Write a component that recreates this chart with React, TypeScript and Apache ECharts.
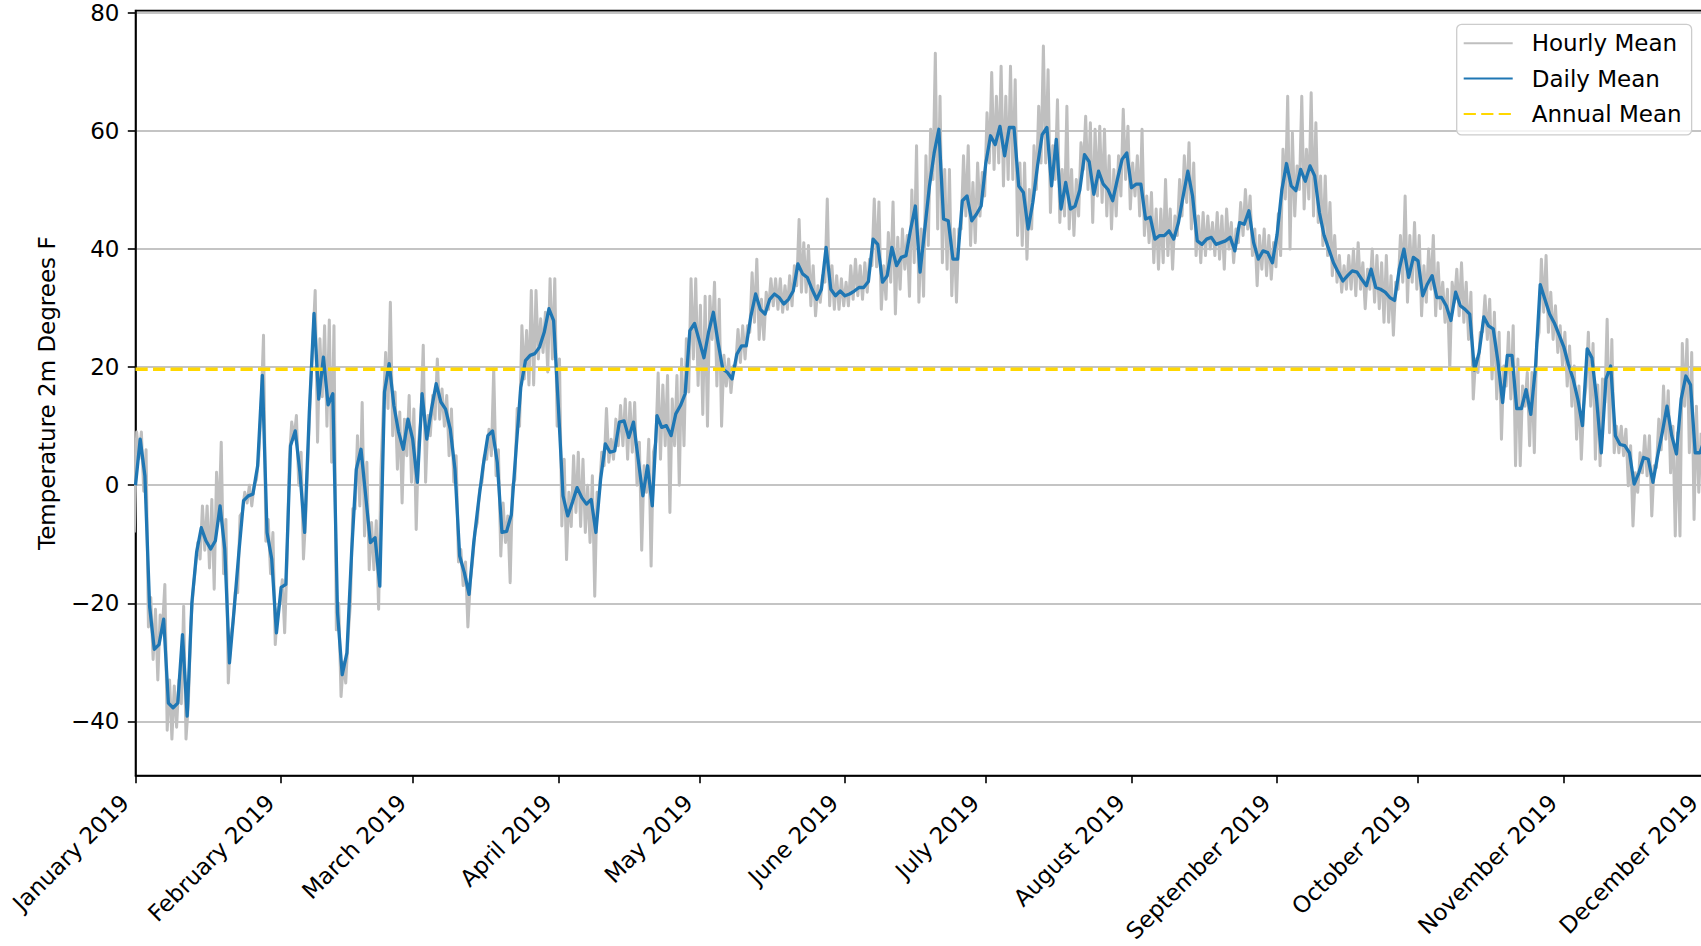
import React, { useEffect, useRef } from "react";
import * as echarts from "echarts";

// ---- data (day index 0 = 1 January 2019) ----
const monthStarts = [0, 31, 59, 90, 120, 151, 181, 212, 243, 273, 304, 334];
const monthLabels = [
  "January 2019", "February 2019", "March 2019", "April 2019", "May 2019", "June 2019",
  "July 2019", "August 2019", "September 2019", "October 2019", "November 2019", "December 2019",
];
const yTicks = [-40, -20, 0, 20, 40, 60, 80];

const dailyMean = [
  0, 7.8, 1.6, -20.5, -27.8, -27, -22.7, -36.9, -37.7, -36.9,
  -25.3, -39.1, -19.9, -11.4, -7.2, -9.4, -10.8, -9.4, -3.5, -10.8,
  -30.1, -21, -11.4, -2.6, -1.8, -1.5, 3.3, 18.6, -8, -12.5,
  -25, -17.3, -16.8, 6.7, 9.2, 2.2, -8, 12.4, 29.1, 14.6,
  21.7, 13.6, 15.5, -21.6, -32.1, -28.4, -11.4, 2.7, 6.1, -1.8,
  -9.7, -8.9, -17.1, 15.8, 20.6, 13.5, 9.0, 6.1, 11.2, 7.8,
  0.5, 15.5, 7.8, 12.9, 17.2, 14.1, 12.9, 9.5, 2.7, -12,
  -14.8, -18.5, -9.7, -2.9, 3.3, 8.4, 9.2, 3.9, -8, -7.8,
  -5, 6, 16.5, 21.1, 22, 22.3, 23.4, 25.9, 29.9, 27.9,
  13.5, -1.8, -5.2, -2.9, -0.4, -2.1, -3.2, -2.4, -8, 1.0,
  7.0, 5.6, 5.8, 10.7, 10.9, 8.1, 10.7, 4.4, -1.8, 3.3,
  -3.5, 11.8, 9.8, 10.1, 8.4, 12.1, 13.5, 15.5, 26.2, 27.4,
  24.5, 21.6, 26, 29.3, 24.2, 19.7, 19.1, 18, 22.2, 23.6,
  23.6, 28.7, 32.4, 29.8, 29, 31.5, 32.4, 31.8, 30.7, 31.5,
  32.9, 37.5, 35.8, 35.2, 33.2, 31.5, 33.2, 40.3, 33.2, 32.1,
  32.9, 32.1, 32.4, 32.9, 33.5, 33.5, 34.5, 41.7, 40.8, 34.4,
  35.5, 40.3, 37.2, 38.6, 38.9, 43.4, 47.3, 36.1, 43.4, 50.7,
  56.3, 60.3, 45.1, 44.8, 38.3, 38.3, 48.2, 49, 44.8, 45.9,
  47.3, 54.6, 59.2, 57.7, 60.8, 55.8, 60.6, 60.6, 50.7, 49.6,
  43.4, 47.9, 54.1, 59.4, 60.6, 50.7, 58.6, 46.8, 51.3, 46.8,
  47.3, 50, 56, 54.8, 49.3, 53.2, 51, 50.1, 48.2, 51.8,
  55.2, 56.3, 50.4, 51, 51, 45.1, 45.4, 41.7, 42.3, 42.3,
  43.1, 41.7, 44.5, 49, 53.2, 49, 41.4, 40.8, 41.7, 42,
  40.8, 41.1, 41.4, 42, 39.7, 44.5, 44.2, 46.5, 41.1, 38.3,
  39.7, 39.4, 37.7, 42.5, 50, 54.5, 50.7, 49.9, 53.5, 51.5,
  54.1, 52.4, 46.2, 42.3, 40, 37.7, 36.1, 34.6, 35.5, 36.3,
  36.1, 34.9, 33.8, 36.6, 33.5, 33.2, 32.7, 31.8, 31.3, 36.6,
  40, 35.2, 38.6, 38, 32.1, 34.1, 35.5, 31.8, 31.8, 30.4,
  27.9, 32.7, 30.4, 29.8, 29, 19.5, 22.5, 28.5, 27, 26.5,
  21, 14, 22, 22, 13, 13, 16.2, 12, 20, 34,
  31.5, 29, 27.5, 25.5, 23.5, 20.5, 18, 14.6, 10.1, 23.1,
  21.6, 14.6, 5.5, 18, 20.2, 8.4, 6.9, 6.7, 5.5, 0.2,
  2.1, 4.7, 4.4, 0.5, 5, 9, 13.4, 8.4, 5.3, 14.6,
  18.5, 17, 5.5, 5.5, 7.8,
];

// daily extremes of the hourly trace
const hourlyHigh = [
  9, 9, 6, -19, -21, -22, -16.8, -33, -34, -33,
  -20.5, -37, -18, -9.7, -3.5, -3.5, -2.4, 2.2, 7.3, -5.8,
  -26, -18, -5.2, -1.2, 0, 0, 5, 25.4, -5.8, -8,
  -21, -16, -13, 10.7, 11.8, 5.6, -5, 15.8, 33, 24.8,
  27, 28, 27, -20, -30, -25.6, -4, 8.4, 14, 3.9,
  -6.3, -6, 2.7, 22.5, 31, 15.8, 12.4, 11.2, 15.2, 12.9,
  7.3, 23.7, 11.8, 15.2, 21.4, 16.3, 15.2, 12.9, 5, -10.9,
  -13, -16.5, -8, -0.7, 5, 9.5, 19.7, 6, -3, -5.2,
  0, 13, 27, 26.2, 33, 33, 28.2, 29.3, 35, 35,
  21.4, 4.4, -1.2, 5, 5.6, 4.4, 0, 1.6, -1.2, 5.6,
  13, 7.8, 11.2, 13.5, 14.6, 14, 14, 7.3, 3.3, 7.8,
  5.6, 19, 17, 18.6, 14.6, 18.6, 21.4, 24.8, 35, 35,
  30.5, 32, 32, 34.4, 31.5, 22, 21.4, 20.2, 26.4, 27,
  27, 36, 38.3, 31.5, 32.7, 35, 35, 35, 33.8, 35.5,
  37.2, 45, 41.1, 40.6, 37.2, 33.8, 35.5, 48.5, 37.2, 35.5,
  35, 34.4, 37.2, 38.3, 37.2, 37.7, 38.3, 48.5, 48, 37.2,
  42.8, 48, 42, 43.4, 42.3, 50, 57.5, 43.4, 55.8, 60.3,
  73.2, 65.9, 53.5, 53.5, 43.4, 43.4, 55.8, 57.5, 51.3, 54.6,
  53, 63.1, 69.9, 65.9, 71, 65.9, 71, 68.7, 54.6, 54.6,
  50.1, 57.5, 64.2, 74.4, 70.4, 57.5, 65.3, 53.5, 64.2, 53.5,
  51.8, 58, 62.5, 61.4, 60.3, 60.8, 60.3, 55.8, 53.5, 55.8,
  63.7, 60.8, 54.6, 55.8, 60.3, 49, 49.6, 46.8, 46.8, 51.8,
  46.8, 45.6, 51.8, 55.8, 58, 54.6, 45.6, 46.2, 45.6, 44.5,
  46.2, 45.6, 46.8, 44.5, 43.4, 47.9, 50.1, 49, 43.4, 42.3,
  43.4, 42.3, 41.1, 46, 56.9, 65.9, 59.7, 54.1, 65.9, 56.9,
  66.5, 61.4, 52.4, 52.4, 47.9, 42.3, 38.9, 37.2, 38.9, 40,
  41.1, 37.7, 36.6, 40, 38.9, 37.7, 38.9, 35.5, 34.4, 42.3,
  49, 42.3, 44.5, 42.3, 37.2, 40, 42.3, 37.7, 34.4, 33.2,
  34.4, 36.6, 37.7, 34.4, 32.7, 21.4, 25.9, 32.1, 31.5, 29.3,
  25.9, 20.2, 25.9, 27, 21.4, 16.8, 19.1, 19.1, 24, 38.3,
  38.9, 32.7, 30.4, 27, 25.9, 23.6, 20.2, 16.8, 13.4, 25.9,
  24, 17, 18, 28.1, 24.7, 10, 10, 9.5, 6.7, 2.1,
  5.5, 8.4, 8.4, 3.3, 11.2, 16.8, 16, 10, 8.9, 24,
  24.7, 22.5, 13.4, 8.9,
];
const hourlyLow = [
  -8, 4.5, -1, -24, -29.5, -33, -24, -41.5, -43, -41,
  -37, -43, -24, -14, -12.5, -11, -14, -17.6, -6, -15,
  -33.5, -23.3, -18.2, -4.6, -3, -3.5, 1, 13.5, -9.5, -15,
  -27, -20, -25, 4.4, 7.8, 0, -12.5, 5.6, 24.2, 7.3,
  15, 10, 3.9, -24.5, -35.8, -33.5, -20, -4, -3.5, -8.6,
  -14.3, -14.3, -21, 13, 13, 8.4, 2.7, -3, 5, 0.5,
  -7.5, 11.2, 0.5, 8.4, 11.2, 11.2, 10, 5, 0.5, -13,
  -17, -24, -12.6, -6.3, 0.5, 4.4, 5, 1.6, -12, -9.7,
  -16.5, 1, 10, 18, 17, 17, 21.4, 22.5, 19.2, 21.4,
  10, -6.9, -12.6, -7, -4.6, -7, -8, -9.7, -18.8, -1.2,
  3.3, 3.9, 4.4, 6.7, 6.7, 4.4, 5.6, 0, -11, -1.2,
  -13.7, 7.3, 4.4, 6.7, -4.6, 6.7, 0, 6.7, 15.8, 21.4,
  16.9, 12, 10, 24.7, 16.8, 10, 16.8, 15.7, 20.2, 20.8,
  21.4, 25.9, 27.6, 24.7, 24.7, 29.8, 30.4, 29.8, 29.3, 29.8,
  30.4, 33.8, 32.7, 32.7, 30.4, 28.7, 31, 34.4, 30.4, 29.8,
  29.8, 30.4, 30.4, 31.5, 32.1, 31.5, 32.7, 37.2, 37, 29.8,
  31.5, 34.4, 29, 33.2, 36.6, 32, 37.7, 31, 32, 40.6,
  51.8, 43.4, 37.7, 36.6, 32.1, 31, 43.4, 45.6, 40.6, 41.1,
  45.6, 49, 54.6, 53.5, 54.6, 50.7, 51.8, 51.8, 42.3, 40.6,
  38.3, 43.4, 50.1, 54.6, 54.6, 46.2, 51.8, 44.5, 45.6, 43.4,
  42.3, 45.6, 53.5, 50.1, 44.5, 49, 47.9, 45.6, 43.4, 45.6,
  49, 51.8, 46.8, 49, 45.6, 42.3, 41.1, 37.7, 36.6, 37.7,
  38.9, 36.6, 42.3, 45.6, 47.9, 43.4, 38.9, 37.7, 38.9, 40,
  38.9, 38.3, 36.6, 40, 37.7, 41.1, 42.3, 43.4, 38.9, 33.8,
  36.6, 35.5, 34.9, 37, 38.9, 48.5, 40, 45.6, 50.1, 46.8,
  48.5, 45.6, 44.5, 40.6, 38.9, 35.5, 34.4, 32.7, 33.2, 33.2,
  32.1, 33.2, 29.9, 33.2, 31, 29.9, 27.6, 27.6, 25.4, 33.2,
  34.4, 31, 34.4, 33.2, 28.7, 31, 33.2, 28.7, 29.9, 27.6,
  19.7, 31, 28.7, 27.6, 24.7, 14.6, 19.1, 26, 24.7, 18,
  14.6, 7.8, 16.8, 14.6, 3.3, 3.3, 13.4, 6.7, 5.5, 25.9,
  29.3, 25.9, 24.7, 22.5, 20.2, 16.8, 13.4, 7.8, 4.4, 16.8,
  13.4, 4.4, 3.3, 14, 8.9, 5.5, 5.5, 5, -0.1, -6.9,
  -1.2, 2.1, 1.6, -5.2, 3, 6, 7.8, 2.1, -8.6, -8.6,
  13.4, 5.5, -5.8, -1.2,
];
const annualMean = 19.65;

const X_MIN = 0;
const X_MAX = 345;
const Y_MIN = -49.2;
const Y_MAX = 80.4;

const FONT = "DejaVu Sans";
const FONT_SIZE = 23;

export default function App() {
  const ref = useRef<HTMLDivElement>(null);

  useEffect(() => {
    if (!ref.current) return;
    const chart = echarts.init(ref.current, null, { renderer: "svg" });

    const hourlyPts: number[][] = [];
    for (let i = 0; i < hourlyHigh.length; i++) {
      hourlyPts.push([i - 0.25, hourlyLow[i]]);
      hourlyPts.push([i + 0.25, hourlyHigh[i]]);
    }
    const dailyPts = dailyMean.map((v, i) => [i, v]);
    const annualPts = [
      [X_MIN, annualMean],
      [X_MAX, annualMean],
    ];

    const pxPerDay = 4.698;
    const pxPerDeg = 5.903;

    const option: any = {
      animation: false,
      backgroundColor: "#ffffff",
      textStyle: { fontFamily: FONT },
      grid: {
        left: 135.5,
        top: 13 - (Y_MAX - 80) * pxPerDeg,
        width: (X_MAX - X_MIN) * pxPerDay,
        height: (Y_MAX - Y_MIN) * pxPerDeg,
        show: true,
        borderColor: "#000000",
        borderWidth: 1.6,
        backgroundColor: "transparent",
        containLabel: false,
        outerBoundsMode: "none",
      },
      legend: {
        orient: "vertical",
        left: 1456.7,
        top: 24.3,
        padding: [6, 10, 8, 6],
        itemWidth: 49,
        itemHeight: 20,
        itemGap: 9.3,
        backgroundColor: "rgba(255,255,255,0.8)",
        borderColor: "#cccccc",
        borderWidth: 1.3,
        borderRadius: 5,
        selectedMode: false,
        itemStyle: { opacity: 0, color: "rgba(0,0,0,0)", borderWidth: 0 },
        textStyle: {
          fontFamily: FONT,
          fontSize: FONT_SIZE,
          color: "#000000",
          lineHeight: 26,
          padding: [0, 0, 0, 14],
        },
        data: ["Hourly Mean", "Daily Mean", "Annual Mean"],
      },
      xAxis: {
        type: "value",
        min: X_MIN,
        max: X_MAX,
        axisLine: { show: true, onZero: false, lineStyle: { color: "#000000", width: 1.6 } },
        axisTick: {
          show: true,
          length: 7.7,
          customValues: monthStarts,
          lineStyle: { color: "#000000", width: 1.6 },
        },
        axisLabel: {
          customValues: monthStarts,
          rotate: 45,
          margin: 12.5,
          padding: [0, 15, 0, 0],
          fontFamily: FONT,
          fontSize: FONT_SIZE,
          color: "#000000",
          formatter: (v: number) => {
            const k = monthStarts.indexOf(Math.round(v));
            return k >= 0 ? monthLabels[k] : "";
          },
        },
        splitLine: { show: false },
      },
      yAxis: {
        type: "value",
        min: Y_MIN,
        max: Y_MAX,
        splitNumber: 6,
        minInterval: 20,
        maxInterval: 20,
        name: "Temperature 2m Degrees F",
        nameLocation: "middle",
        nameGap: 77,
        nameTextStyle: { fontFamily: FONT, fontSize: FONT_SIZE, color: "#000000" },
        axisLine: { show: true, onZero: false, lineStyle: { color: "#000000", width: 1.6 } },
        axisTick: {
          show: true,
          length: 7.7,
          customValues: yTicks,
          lineStyle: { color: "#000000", width: 1.6 },
        },
        axisLabel: {
          customValues: yTicks,
          margin: 16,
          fontFamily: FONT,
          fontSize: FONT_SIZE,
          color: "#000000",
          formatter: (v: number) => String(Math.round(v)).replace("-", "\u2212"),
        },
        splitLine: { show: true, lineStyle: { color: "#b0b0b0", width: 1.6 } },
      },
      series: [
        {
          name: "Hourly Mean",
          type: "line",
          data: hourlyPts,
          symbol: "none",
          showSymbol: false,
          clip: true,
          silent: true,
          z: 2,
          lineStyle: { color: "#bfbfbf", width: 3, join: "round" },
          itemStyle: { color: "#bfbfbf" },
        },
        {
          name: "Daily Mean",
          type: "line",
          data: dailyPts,
          symbol: "none",
          showSymbol: false,
          clip: true,
          silent: true,
          z: 3,
          lineStyle: { color: "#1f77b4", width: 3.3, join: "round" },
          itemStyle: { color: "#1f77b4" },
        },
        {
          name: "Annual Mean",
          type: "line",
          data: annualPts,
          symbol: "none",
          showSymbol: false,
          clip: true,
          silent: true,
          z: 4,
          lineStyle: { color: "#ffd700", width: 3.3, type: [12.2, 5.3] },
          itemStyle: { color: "#ffd700" },
        },
      ],
    };

    chart.setOption(option);
    return () => chart.dispose();
  }, []);

  return (
    <div
      style={{
        position: "fixed",
        left: 0,
        top: 0,
        width: 1701,
        height: 946,
        overflow: "hidden",
        background: "#ffffff",
      }}
    >
      <div ref={ref} style={{ width: 1800, height: 946 }} />
    </div>
  );
}
